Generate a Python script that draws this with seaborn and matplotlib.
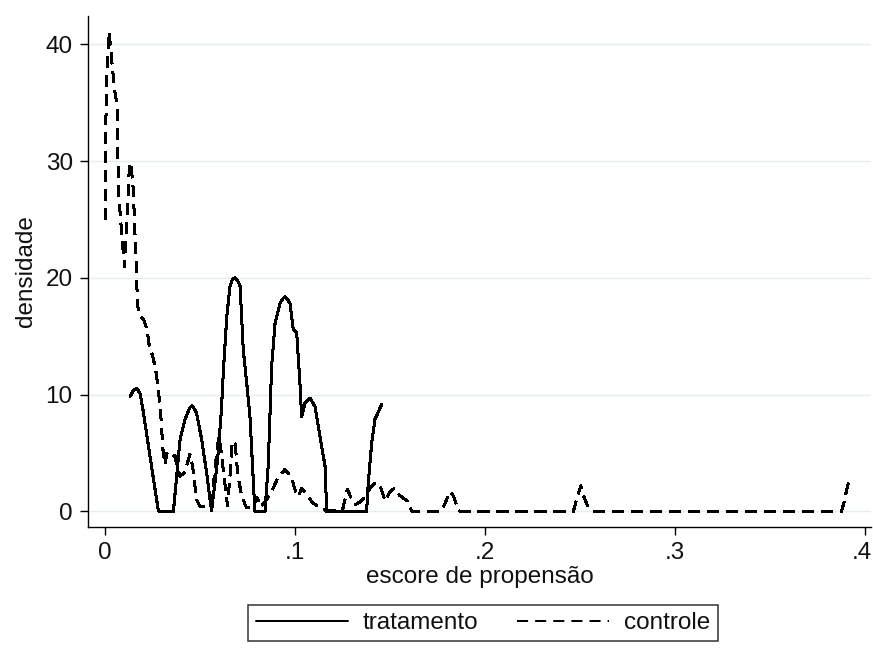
import matplotlib
matplotlib.use("Agg")
import matplotlib.pyplot as plt
import matplotlib.transforms as mtransforms
import seaborn as sns
import pandas as pd

# Propensity-score densities (x = escore, y = densidade)
trat_x = [0.0132, 0.0150, 0.0167, 0.0185, 0.0200, 0.0226, 0.0253, 0.0280, 0.0288,
          0.0360, 0.0377, 0.0395, 0.0421, 0.0447, 0.0456, 0.0470, 0.0482, 0.0509,
          0.0535, 0.0553, 0.0561, 0.0577, 0.0594, 0.0612, 0.0623, 0.0641, 0.0658,
          0.0671, 0.0684, 0.0698, 0.0711, 0.0728, 0.0746, 0.0763, 0.0781, 0.0789,
          0.0842, 0.0859, 0.0868, 0.0877, 0.0895, 0.0921, 0.0934, 0.0947, 0.0960,
          0.0974, 0.0991, 0.1009, 0.1026, 0.1035, 0.1053, 0.1079, 0.1105, 0.1132,
          0.1158, 0.1167, 0.1377, 0.1386, 0.1404, 0.1421, 0.1456]
trat_y = [9.85, 10.4, 10.55, 10.1, 8.7, 5.9, 3.0, 0.15, 0.0,
          0.0, 3.0, 6.15, 7.9, 8.9, 9.05, 8.8, 8.4, 6.15,
          3.3, 1.0, 0.1, 2.2, 4.7, 8.5, 12.0, 16.7, 19.3,
          19.9, 20.0, 19.8, 19.3, 13.8, 11.0, 8.1, 2.5, 0.0,
          0.0, 3.9, 8.1, 12.4, 16.1, 17.8, 18.2, 18.4, 18.2,
          17.8, 15.6, 15.3, 11.0, 8.1, 9.3, 9.7, 9.0, 6.4,
          3.9, 0.0, 0.0, 2.5, 5.9, 7.9, 9.15]

ctrl_x = [0.0000, 0.0001, 0.0010, 0.0021, 0.0031, 0.0040, 0.0053, 0.0063, 0.0066,
          0.0070, 0.0074, 0.0083, 0.0095, 0.0103, 0.0114, 0.0123, 0.0129, 0.0137,
          0.0149, 0.0158, 0.0167, 0.0171, 0.0184, 0.0205, 0.0221, 0.0232, 0.0253,
          0.0268, 0.0281, 0.0295, 0.0305, 0.0316, 0.0325, 0.0345, 0.0368, 0.0380,
          0.0395, 0.0421, 0.0447, 0.0460, 0.0475, 0.0482, 0.0500, 0.0553, 0.0560,
          0.0575, 0.0590, 0.0600, 0.0612, 0.0630, 0.0645, 0.0660, 0.0670, 0.0685,
          0.0700, 0.0720, 0.0745, 0.0775, 0.0800, 0.0820, 0.0850, 0.0880, 0.0910,
          0.0947, 0.0980, 0.1005, 0.1020, 0.1035, 0.1060, 0.1090, 0.1130, 0.1160,
          0.1250, 0.1275, 0.1295, 0.1320, 0.1340, 0.1365, 0.1395, 0.1425, 0.1450,
          0.1475, 0.1500, 0.1525, 0.1550, 0.1590, 0.1615, 0.1770, 0.1790, 0.1815,
          0.1835, 0.1860, 0.1870, 0.2465, 0.2485, 0.2505, 0.2520, 0.2545, 0.2570,
          0.3877, 0.3890, 0.3910, 0.3920]
ctrl_y = [25.0, 30.5, 37.8, 41.1, 39.5, 37.8, 35.8, 35.0, 32.4,
          28.4, 26.7, 24.8, 22.4, 21.0, 24.3, 27.5, 29.9, 29.7,
          27.5, 23.7, 19.8, 17.7, 16.7, 16.4, 15.6, 14.3, 13.2,
          12.0, 10.4, 7.9, 5.3, 4.0, 5.0, 4.6, 4.8, 3.8,
          3.0, 3.4, 4.9, 4.0, 2.0, 1.0, 0.45, 0.4, 0.5,
          3.0, 5.3, 6.5, 5.0, 2.5, 0.5, 3.5, 6.0, 5.8,
          3.0, 1.3, 0.3, 0.3, 1.2, 0.4, 1.0, 1.8, 2.9,
          3.6, 3.0, 1.6, 1.3, 2.0, 1.5, 0.8, 0.3, 0.1,
          0.1, 1.9, 1.2, 0.6, 0.8, 1.2, 2.0, 2.5, 2.1,
          0.9, 1.7, 2.0, 1.4, 0.9, 0.0, 0.0, 0.7, 1.7,
          1.3, 0.1, 0.0, 0.0, 1.2, 2.2, 1.3, 0.3, 0.0,
          0.0, 0.8, 2.3, 2.5]

x_ticks = [0, 0.1, 0.2, 0.3, 0.4]
x_tick_labels = ["0", ".1", ".2", ".3", ".4"]
y_ticks = [0, 10, 20, 30, 40]
y_tick_labels = ["0", "10", "20", "30", "40"]

sns.set_theme(style="white")
plt.rcParams["font.family"] = ["Liberation Sans", "DejaVu Sans"]

FS = 17.5
TXT = "#111111"

fig = plt.figure(figsize=(8.73, 6.48), dpi=100)
ax = fig.add_axes([88 / 873, 1 - 527 / 648, (871 - 88) / 873, (527 - 16) / 648])

trat = pd.DataFrame({"x": trat_x, "y": trat_y})
ctrl = pd.DataFrame({"x": ctrl_x, "y": ctrl_y})

sns.lineplot(data=trat, x="x", y="y", sort=False, estimator=None, ax=ax,
             color="black", lw=1.45, antialiased=False, label="tratamento")
sns.lineplot(data=ctrl, x="x", y="y", sort=False, estimator=None, ax=ax,
             color="black", lw=1.45, antialiased=False, label="controle",
             linestyle=(0, (5.5, 3.5)))

ax.set_xlim(-0.00895, 0.4032)
ax.set_ylim(-1.33, 42.44)

ax.set_xticks(x_ticks)
ax.set_xticklabels(x_tick_labels)
ax.set_yticks(y_ticks)
ax.set_yticklabels(y_tick_labels)

ax.yaxis.grid(True, color="#e4eef0", lw=1.0)
ax.xaxis.grid(False)
ax.set_axisbelow(True)

for side in ("top", "right"):
    ax.spines[side].set_visible(False)
for side in ("left", "bottom"):
    ax.spines[side].set_color("black")
    ax.spines[side].set_linewidth(1.0)

ax.tick_params(axis="both", which="major", direction="out", length=6, width=1.0,
               color="black", labelsize=FS, labelcolor=TXT, pad=5,
               left=True, bottom=True)

# keep the last x tick label inside the canvas
last = ax.get_xticklabels()[-1]
last.set_transform(last.get_transform() +
                   mtransforms.ScaledTranslation(-3 / 100, 0, fig.dpi_scale_trans))

ax.set_xlabel("escore de propensão", fontsize=FS, color=TXT, labelpad=1)
ax.set_ylabel("densidade", fontsize=FS, color=TXT, labelpad=6)

handles, labels = ax.get_legend_handles_labels()
ax.get_legend().remove()
leg = fig.legend(handles, labels, loc="center", ncol=2,
                 bbox_to_anchor=(483 / 873, 1 - 623 / 648),
                 fontsize=FS, frameon=True, fancybox=False,
                 handlelength=3.8, handletextpad=0.6, columnspacing=1.6,
                 borderpad=0.3, borderaxespad=0)
leg.get_frame().set_edgecolor("black")
leg.get_frame().set_linewidth(1.1)
for t in leg.get_texts():
    t.set_color(TXT)

fig.savefig("out.png", dpi=100)
